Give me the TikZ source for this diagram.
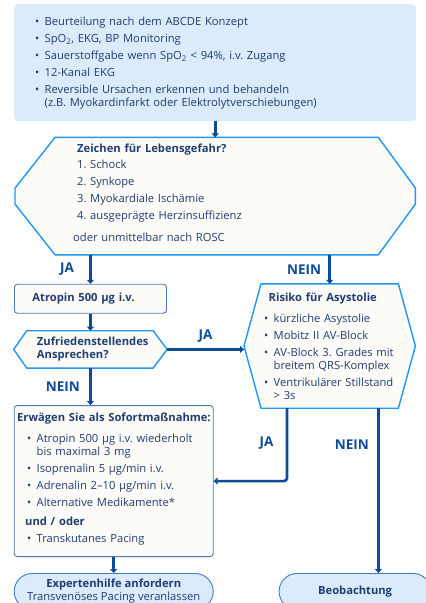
\documentclass[tikz,border=0pt]{standalone}
\usepackage{fontspec}
\setmainfont{Open Sans}
\usepackage{tikz}
\usetikzlibrary{arrows.meta,positioning,backgrounds,calc}
\definecolor{navy}{HTML}{0E4A96}
\definecolor{txtblue}{HTML}{1F3D73}
\definecolor{skyfill}{HTML}{DCEBFB}
\definecolor{creamfill}{HTML}{FDFCF8}
\definecolor{hexblue}{HTML}{2196F3}
\definecolor{boxline}{HTML}{4F79AE}
\definecolor{pillline}{HTML}{3D7FC6}
\frenchspacing
\newcommand{\itm}{\makebox[9.5pt][l]{\textbullet}}
\newcommand{\cnt}{\hspace*{9.5pt}}
\tikzset{
  bodytext/.style={font=\fontsize{11.2}{13}\selectfont, text=txtblue, align=left},
  boldtext/.style={font=\bfseries\fontsize{11.2}{13}\selectfont},
  infobox/.style={bodytext, fill=skyfill, rounded corners=4pt, inner ysep=0pt},
  hexnode/.style={bodytext, inner ysep=0pt},
  hexline/.style={draw=hexblue, fill=creamfill, line width=1.4pt, line join=round},
  stepbox/.style={bodytext, draw=boxline, fill=creamfill, line width=0.9pt, rounded corners=3pt, inner ysep=0pt},
  pillbox/.style={bodytext, align=center, draw=pillline, fill=skyfill, line width=0.9pt, rounded corners=18pt, minimum height=36pt, inner ysep=0pt},
  flowarrow/.style={draw=navy, line width=2.6pt, -{Triangle[length=4pt,width=7pt]}},
  answer/.style={font=\bfseries\fontsize{13.5}{15}\selectfont, text=navy},
}

\begin{document}
\begin{tikzpicture}[x=1pt, y=-1pt]
  \useasboundingbox (0,0) rectangle (426,603);

  % Top: first assessment
  \node[infobox, anchor=north west, minimum width=402pt, minimum height=117pt, inner xsep=21pt, text width=360pt] (assess) at (14,4)
    {\itm Beurteilung nach dem ABCDE Konzept\\[4pt]
     \itm SpO\textsubscript{2}, EKG, BP Monitoring\\[4pt]
     \itm Sauerstoffgabe wenn SpO\textsubscript{2} < 94\%, i.v. Zugang\\[4pt]
     \itm 12-Kanal EKG\\[4pt]
     \itm Reversible Ursachen erkennen und behandeln\\
     \cnt(z.B. Myokardinfarkt oder Elektrolytverschiebungen)};

  % Decision: danger signs
  \node[hexnode, below=16pt of assess, minimum width=400pt, minimum height=117pt, inner xsep=58pt, text width=284pt] (danger)
    {\hspace*{4pt}\textbf{Zeichen für Lebensgefahr?}\\[3pt]
     \hspace*{4pt}\makebox[13pt][l]{1.}Schock\\[4pt]
     \hspace*{4pt}\makebox[13pt][l]{2.}Synkope\\[4pt]
     \hspace*{4pt}\makebox[13pt][l]{3.}Myokardiale Ischämie\\[4pt]
     \hspace*{4pt}\makebox[13pt][l]{4.}ausgeprägte Herzinsuffizienz\\[9pt]
     oder unmittelbar nach ROSC\\[-7pt]\mbox{}};

  % Left branch
  \node[stepbox, boldtext, below right=29pt and -1pt of danger.south west, minimum width=152pt, minimum height=29pt, inner xsep=18pt, text width=116pt] (atropin)
    {Atropin 500 µg i.v.};
  \node[hexnode, boldtext, below=17pt of atropin, minimum width=153pt, minimum height=37pt, inner xsep=23pt, text width=107pt] (resp)
    {Zufriedenstellendes\\Ansprechen?};
  \node[stepbox, below right=37pt and 0pt of resp.south west, minimum width=199pt, minimum height=151pt, inner xsep=2pt, text width=195pt] (measures)
    {\hspace*{1pt}\textbf{Erwägen Sie als Sofortmaßnahme:}\\[8pt]
     \hspace*{11pt}\itm Atropin 500 µg i.v. wiederholt\\
     \hspace*{11pt}\cnt bis maximal 3 mg\\[4pt]
     \hspace*{11pt}\itm Isoprenalin 5 µg/min i.v.\\[4pt]
     \hspace*{11pt}\itm Adrenalin 2--10 µg/min i.v.\\[4pt]
     \hspace*{11pt}\itm Alternative Medikamente*\\[6pt]
     \hspace*{9pt}\textbf{und / oder}\\[4pt]
     \hspace*{11pt}\itm Transkutanes Pacing\\[-7pt]\mbox{}};
  \node[pillbox, below=16pt of measures, minimum width=199pt] (expert)
    {\textbf{Expertenhilfe anfordern}\\Transvenöses Pacing veranlassen};

  % Right branch
  \node[hexnode, below left=29pt and 0pt of danger.south east, minimum width=171pt, minimum height=124pt, inner xsep=18.5pt, text width=134pt] (risk)
    {\hspace*{6pt}\textbf{Risiko für Asystolie}\\[8pt]
     \hspace*{1.5pt}\itm kürzliche Asystolie\\[4pt]
     \hspace*{1.5pt}\itm Mobitz II AV-Block\\[4pt]
     \hspace*{1.5pt}\itm AV-Block 3. Grades mit\\
     \hspace*{1.5pt}\cnt breitem QRS-Komplex\\[4pt]
     \hspace*{1.5pt}\itm Ventrikulärer Stillstand\\
     \hspace*{1.5pt}\cnt > 3s};
  \node[pillbox, right=65pt of expert, minimum width=152pt] (obs) {\textbf{Beobachtung}};

  % Hexagon outlines
  \begin{scope}[on background layer]
    \draw[hexline] ([xshift=40pt]danger.north west) -- ([xshift=-37pt]danger.north east) -- ([yshift=8pt]danger.east)
      -- ([yshift=-8pt]danger.east) -- ([xshift=-37pt]danger.south east) -- ([xshift=40pt]danger.south west)
      -- ([yshift=-8pt]danger.west) -- ([yshift=8pt]danger.west) -- cycle;
    \draw[hexline] ([xshift=13pt]resp.north west) -- ([xshift=-14pt]resp.north east) -- (resp.east)
      -- ([xshift=-14pt]resp.south east) -- ([xshift=13pt]resp.south west) -- (resp.west) -- cycle;
    \draw[hexline] ([xshift=17pt]risk.north west) -- ([xshift=-17pt]risk.north east) -- (risk.east)
      -- ([xshift=-17pt]risk.south east) -- ([xshift=17pt]risk.south west) -- (risk.west) -- cycle;
  \end{scope}

  % Arrows
  \coordinate (jaup) at ([xshift=43pt]risk.south west);
  \coordinate (neindown) at ([xshift=-37pt]risk.south east);
  \draw[flowarrow] (assess.south) -- (danger.north);
  \draw[flowarrow] (atropin.north |- danger.south) -- node[answer, left=12pt] {JA} (atropin.north);
  \draw[flowarrow] (risk.north |- danger.south) -- node[answer, left=4pt] {NEIN} (risk.north);
  \draw[flowarrow] (atropin) -- (resp);
  \draw[flowarrow] (resp.east) -- node[answer, above=2pt] {JA} (resp.east -| risk.west);
  \draw[flowarrow] (resp.south) -- node[answer, left=6pt] {NEIN} (resp.south |- measures.north);
  \draw[flowarrow] (measures) -- (expert);
  \draw[flowarrow, rounded corners=3pt] (jaup) |- node[answer, pos=0.24, left=9pt] {JA} (measures.east);
  \draw[flowarrow] (neindown) -- node[answer, pos=0.22, left=5pt] {NEIN} (neindown |- obs.north);
\end{tikzpicture}
\end{document}
